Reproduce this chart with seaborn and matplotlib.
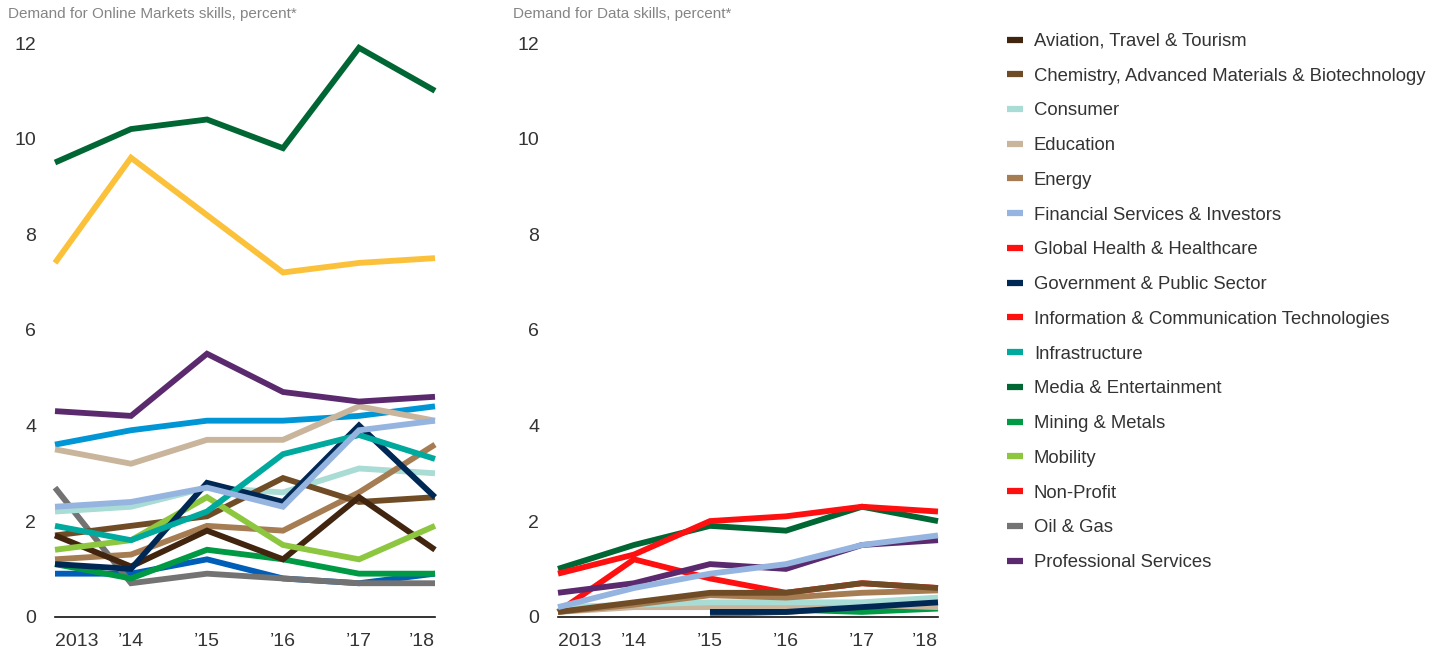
import numpy as np
import pandas as pd
import matplotlib
matplotlib.use("Agg")
import matplotlib.pyplot as plt
import seaborn as sns
from matplotlib.lines import Line2D

years = ["2013", "\u201914", "\u201915", "\u201916", "\u201917", "\u201918"]

industries = [
    "Aviation, Travel & Tourism",
    "Chemistry, Advanced Materials & Biotechnology",
    "Consumer",
    "Education",
    "Energy",
    "Financial Services & Investors",
    "Global Health & Healthcare",
    "Government & Public Sector",
    "Information & Communication Technologies",
    "Infrastructure",
    "Media & Entertainment",
    "Mining & Metals",
    "Mobility",
    "Non-Profit",
    "Oil & Gas",
    "Professional Services",
]

legend_colors = [
    "#42250f", "#704c26", "#a8dcd4", "#c9b49c", "#a67c52", "#96b4e0",
    "#ff1010", "#002855", "#ff1010", "#00a99d", "#006633", "#009a44",
    "#8dc63f", "#ff1010", "#737373", "#5b2a6e",
]

# three series carry other colours in the Online Markets panel
online_overrides = {
    "Global Health & Healthcare": "#005eb8",
    "Information & Communication Technologies": "#fbc13a",
    "Non-Profit": "#0096d6",
}

nan = np.nan
online = {
    "Aviation, Travel & Tourism": [1.7, 1.05, 1.8, 1.2, 2.5, 1.4],
    "Chemistry, Advanced Materials & Biotechnology": [1.7, 1.9, 2.1, 2.9, 2.4, 2.5],
    "Consumer": [2.2, 2.3, 2.7, 2.6, 3.1, 3.0],
    "Education": [3.5, 3.2, 3.7, 3.7, 4.4, 4.1],
    "Energy": [1.2, 1.3, 1.9, 1.8, 2.6, 3.6],
    "Financial Services & Investors": [2.3, 2.4, 2.7, 2.3, 3.9, 4.1],
    "Global Health & Healthcare": [0.9, 0.9, 1.2, 0.8, 0.7, 0.9],
    "Government & Public Sector": [1.1, 1.0, 2.8, 2.4, 4.0, 2.5],
    "Information & Communication Technologies": [7.4, 9.6, 8.4, 7.2, 7.4, 7.5],
    "Infrastructure": [1.9, 1.6, 2.2, 3.4, 3.8, 3.3],
    "Media & Entertainment": [9.5, 10.2, 10.4, 9.8, 11.9, 11.0],
    "Mining & Metals": [1.1, 0.8, 1.4, 1.2, 0.9, 0.9],
    "Mobility": [1.4, 1.6, 2.5, 1.5, 1.2, 1.9],
    "Non-Profit": [3.6, 3.9, 4.1, 4.1, 4.2, 4.4],
    "Oil & Gas": [2.7, 0.7, 0.9, 0.8, 0.7, 0.7],
    "Professional Services": [4.3, 4.2, 5.5, 4.7, 4.5, 4.6],
}

data_skills = {
    "Aviation, Travel & Tourism": [nan] * 6,
    "Chemistry, Advanced Materials & Biotechnology": [0.1, 0.3, 0.5, 0.5, 0.7, 0.6],
    "Consumer": [0.2, 0.25, 0.3, 0.3, 0.3, 0.4],
    "Education": [0.1, 0.2, 0.2, 0.2, 0.25, 0.2],
    "Energy": [0.1, 0.25, 0.45, 0.4, 0.5, 0.55],
    "Financial Services & Investors": [0.2, 0.6, 0.9, 1.1, 1.5, 1.7],
    "Global Health & Healthcare": [nan] * 6,
    "Government & Public Sector": [nan, nan, 0.1, 0.1, 0.2, 0.3],
    "Information & Communication Technologies": [0.9, 1.3, 2.0, 2.1, 2.3, 2.2],
    "Infrastructure": [nan] * 6,
    "Media & Entertainment": [1.0, 1.5, 1.9, 1.8, 2.3, 2.0],
    "Mining & Metals": [nan, nan, 0.15, 0.15, 0.1, 0.17],
    "Mobility": [nan] * 6,
    "Non-Profit": [0.1, 1.2, 0.8, 0.5, 0.7, 0.6],
    "Oil & Gas": [nan, nan, 0.05, 0.1, 0.2, 0.2],
    "Professional Services": [0.5, 0.7, 1.1, 1.0, 1.5, 1.6],
}

# drawing order (last on top)
draw_order = [
    "Non-Profit", "Global Health & Healthcare", "Oil & Gas", "Mining & Metals",
    "Education", "Consumer", "Energy", "Chemistry, Advanced Materials & Biotechnology",
    "Aviation, Travel & Tourism", "Mobility", "Government & Public Sector",
    "Infrastructure", "Professional Services", "Financial Services & Investors",
    "Media & Entertainment", "Information & Communication Technologies",
]

sns.set_theme(style="white")
plt.rcParams["font.family"] = ["Liberation Sans", "DejaVu Sans"]

base_pal = dict(zip(industries, legend_colors))
online_pal = {**base_pal, **online_overrides}


def to_long(d):
    rows = []
    for name, vals in d.items():
        for i, v in enumerate(vals):
            rows.append({"industry": name, "x": i, "value": v})
    return pd.DataFrame(rows).dropna()


fig = plt.figure(figsize=(14.4, 6.55), dpi=100)
ax1 = fig.add_axes([55 / 1440, 38.3 / 655, 380 / 1440, 573.7 / 655])
ax2 = fig.add_axes([558 / 1440, 38.3 / 655, 380 / 1440, 573.7 / 655])

for ax, d, pal, title, tx in [
    (ax1, online, online_pal, "Demand for Online Markets skills, percent*", 8),
    (ax2, data_skills, base_pal, "Demand for Data skills, percent*", 513),
]:
    df = to_long(d)
    order = [n for n in draw_order if n in df["industry"].unique()]
    sns.lineplot(data=df, x="x", y="value", hue="industry", hue_order=order,
                 palette=pal, linewidth=4.2, legend=False, ax=ax,
                 estimator=None, sort=False)
    for ln in ax.lines:
        ln.set_clip_on(False)
        ln.set_solid_capstyle("butt")
        ln.set_solid_joinstyle("miter")
    ax.set_xlim(0, 5)
    ax.set_ylim(0, 12)
    ax.set_yticks(range(0, 13, 2))
    ax.set_yticklabels([str(v) for v in range(0, 13, 2)], fontsize=14, color="#333333")
    ax.set_xticks(range(len(years)))
    ax.set_xticklabels(years, fontsize=14, color="#333333")
    labs = ax.get_xticklabels()
    labs[0].set_ha("left")
    labs[-1].set_ha("right")
    ax.tick_params(axis="y", length=0, pad=13.5)
    ax.tick_params(axis="x", length=0, pad=12)
    ax.set_xlabel("")
    ax.set_ylabel("")
    for s in ["top", "right", "left"]:
        ax.spines[s].set_visible(False)
    ax.spines["bottom"].set_color("#111111")
    ax.spines["bottom"].set_linewidth(1.2)
    ax.set_facecolor("none")
    fig.text(tx / 1440, 1 - 14 / 655, title, fontsize=11, color="#858585",
             ha="left", va="center")

handles = [Line2D([0], [0], color=c, lw=4.5, solid_capstyle="butt") for c in legend_colors]
fig.legend(handles, industries, loc="upper left", bbox_to_anchor=(1007 / 1440, 1 - 33 / 655),
           frameon=False, fontsize=13.3, handlelength=0.85, handletextpad=0.6,
           labelspacing=0.96, labelcolor="#333333", borderaxespad=0, borderpad=0)

fig.savefig("out.png", dpi=100)
